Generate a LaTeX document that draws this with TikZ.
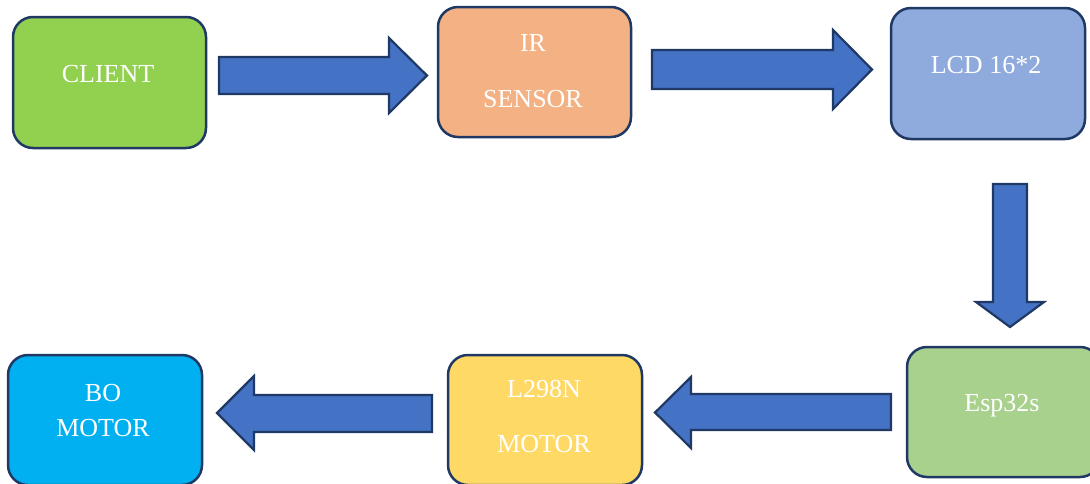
\documentclass[tikz,border=0pt]{standalone}
\usepackage{fontspec}
\setmainfont{Liberation Serif}
\definecolor{cgreen}{HTML}{92D050}
\definecolor{corange}{HTML}{F4B183}
\definecolor{cblue}{HTML}{8FAADC}
\definecolor{cgreen2}{HTML}{A9D18E}
\definecolor{cyellow}{HTML}{FFD966}
\definecolor{ccyan}{HTML}{00B0F0}
\definecolor{carrow}{HTML}{4472C4}
\definecolor{cborder}{HTML}{1F3864}
\tikzset{
  box/.style={draw=cborder, line width=2.5pt, rounded corners=20pt, inner sep=0pt},
  txt/.style={text=white, anchor=base, inner sep=0pt, font=\fontsize{26}{31}\selectfont},
  blockarrow/.style={draw=cborder, line width=2.2pt, fill=carrow, line join=miter}
}
\begin{document}
\begin{tikzpicture}[x=1pt,y=-1pt]
\useasboundingbox (0,0) rectangle (1090,483);
% boxes
\node[box, fill=cgreen, minimum width=193pt, minimum height=131pt] (client) at (109.5,82.5) {};
\node[box, fill=corange, minimum width=193pt, minimum height=130pt] (ir) at (534.5,72) {};
\node[box, fill=cblue, minimum width=194pt, minimum height=131pt] (lcd) at (988,73.5) {};
\node[box, fill=cgreen2, minimum width=193pt, minimum height=130pt] (esp) at (1003.5,412) {};
\node[box, fill=cyellow, minimum width=194pt, minimum height=130pt] (l298) at (545,420) {};
\node[box, fill=ccyan, minimum width=194pt, minimum height=130pt] (bo) at (105,420) {};
% texts
\node[txt] (t1) at (108,82) {CLIENT};
\node[txt] (t2) at (533,51) {IR};
\node[txt] (t3) at (533,107) {SENSOR};
\node[txt] (t4) at (986,73) {LCD 16*2};
\node[txt] (t5) at (1002,411) {Esp32s};
\node[txt] (t6) at (544,397) {L298N};
\node[txt] (t7) at (544,452) {MOTOR};
\node[txt] (t8) at (103,401) {BO};
\node[txt] (t9) at (103,436) {MOTOR};
% block arrows
\draw[blockarrow] (219,57) -- (389,57) -- (389,38) -- (427,75.5) -- (389,113) -- (389,94) -- (219,94) -- cycle;
\draw[blockarrow] (652,50) -- (833,50) -- (833,30) -- (872,69.5) -- (833,109) -- (833,89) -- (652,89) -- cycle;
\draw[blockarrow] (993,184) -- (1027,184) -- (1027,302) -- (1044,302) -- (1010,327) -- (976,302) -- (993,302) -- cycle;
\draw[blockarrow] (891,394) -- (691,394) -- (691,377) -- (655,412.5) -- (691,448) -- (691,430) -- (891,430) -- cycle;
\draw[blockarrow] (432,395) -- (254,395) -- (254,376) -- (217,413) -- (254,450) -- (254,432) -- (432,432) -- cycle;
\end{tikzpicture}
\end{document}
